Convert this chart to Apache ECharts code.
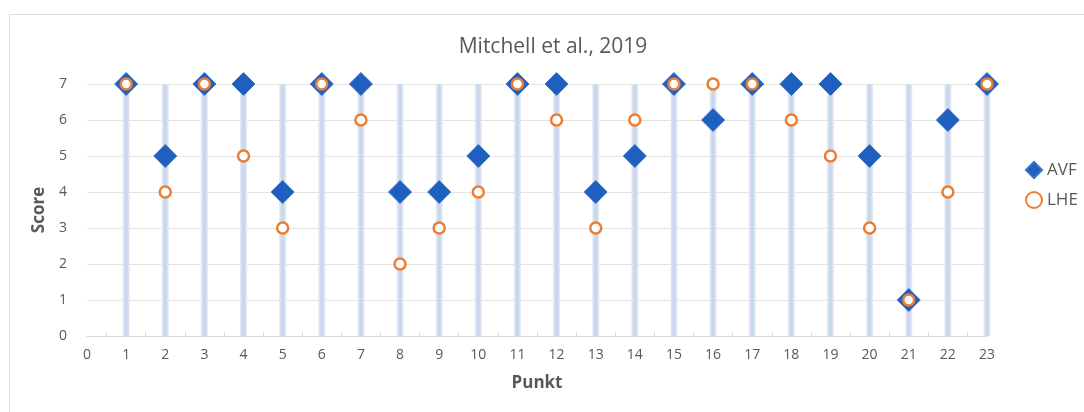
<!DOCTYPE html>
<html>
<head>
<meta charset="utf-8">
<script src="https://cdn.jsdelivr.net/npm/echarts@6/dist/echarts.min.js"></script>
<style>
  html, body { margin: 0; padding: 0; background: #fff; }
  #chart { width: 1084px; height: 412px; }
</style>
</head>
<body>
<div id="chart"></div>
<script>
// Punkt 1..23
const punkte = [1, 2, 3, 4, 5, 6, 7, 8, 9, 10, 11, 12, 13, 14, 15, 16, 17, 18, 19, 20, 21, 22, 23];
const avf = [7, 5, 7, 7, 4, 7, 7, 4, 4, 5, 7, 7, 4, 5, 7, 6, 7, 7, 7, 5, 1, 6, 7];
const lhe = [7, 4, 7, 5, 3, 7, 6, 2, 3, 4, 7, 6, 3, 6, 7, 7, 7, 6, 5, 3, 1, 4, 7];
// shaded columns behind every point reach up to max score
const columnTop = [7, 7, 7, 7, 7, 7, 7, 7, 7, 7, 7, 7, 7, 7, 7, 7, 7, 7, 7, 7, 7, 7, 7];

const blue = '#1f5fc0';
const orange = '#ed7d31';
const textColor = '#595959';
const font = '"Open Sans", "Liberation Sans", sans-serif';

const chart = echarts.init(document.getElementById('chart'));

chart.setOption({
    animation: false,
    textStyle: { fontFamily: font },
    graphic: [{
        type: 'rect',
        shape: { x: 9.5, y: 14.5, width: 1090, height: 420 },
        style: { fill: 'none', stroke: '#d9d9d9', lineWidth: 1 },
        silent: true
    }],
    title: {
        text: 'Mitchell et al., 2019',
        left: 548,
        top: 32,
        textAlign: 'center',
        textStyle: { color: textColor, fontSize: 21, fontWeight: 'normal', fontFamily: font }
    },
    legend: {
        orient: 'vertical',
        left: 1020,
        top: 156,
        itemGap: 12,
        itemWidth: 16,
        itemHeight: 16,
        textStyle: { color: textColor, fontSize: 17, fontFamily: font },
        data: [
            { name: 'AVF', icon: 'diamond' },
            { name: 'LHE', icon: 'circle' }
        ]
    },
    grid: { left: 87, right: 97, top: 84, bottom: 76 },
    xAxis: {
        type: 'value',
        min: 0,
        max: 23,
        interval: 1,
        name: 'Punkt',
        nameLocation: 'middle',
        nameGap: 39,
        nameTextStyle: { color: textColor, fontSize: 17, fontWeight: 'bold', fontFamily: font },
        axisLine: { show: true, lineStyle: { color: '#d9d9d9' } },
        axisTick: { show: false, inside: true },
        minorTick: { show: true, splitNumber: 2, length: 4, lineStyle: { color: '#d9d9d9' } },
        axisLabel: { color: textColor, fontSize: 14, margin: 12 },
        splitLine: { show: false }
    },
    yAxis: {
        type: 'value',
        min: 0,
        max: 7,
        interval: 1,
        name: 'Score',
        nameLocation: 'middle',
        nameGap: 37,
        nameTextStyle: { color: textColor, fontSize: 17, fontWeight: 'bold', fontFamily: font },
        axisLine: { show: false },
        axisTick: { show: false },
        axisLabel: { color: textColor, fontSize: 14, margin: 20 },
        splitLine: { lineStyle: { color: '#e3e3e3' } }
    },
    series: [
        {
            name: 'columns',
            type: 'bar',
            barWidth: 7,
            silent: true,
            z: 1,
            itemStyle: {
                color: new echarts.graphic.LinearGradient(0, 0, 1, 0, [
                    { offset: 0, color: '#e6ecf6' },
                    { offset: 0.5, color: '#c4d2ea' },
                    { offset: 1, color: '#e6ecf6' }
                ])
            },
            data: punkte.map((p, i) => [p, columnTop[i]])
        },
        {
            name: 'AVF',
            type: 'scatter',
            symbol: 'diamond',
            symbolSize: 23,
            z: 3,
            itemStyle: { color: blue, borderColor: '#3a70c6', borderWidth: 1, opacity: 1 },
            data: punkte.map((p, i) => [p, avf[i]])
        },
        {
            name: 'LHE',
            type: 'scatter',
            symbol: 'circle',
            symbolSize: 11,
            z: 4,
            itemStyle: { color: '#fff', borderColor: orange, borderWidth: 2.5, opacity: 1 },
            data: punkte.map((p, i) => [p, lhe[i]])
        }
    ]
});
</script>
</body>
</html>
